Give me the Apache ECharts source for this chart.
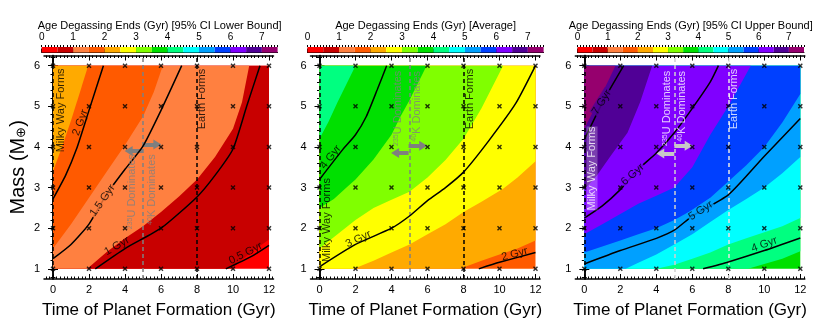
<!DOCTYPE html>
<html>
<head>
<meta charset="utf-8">
<script src="https://cdn.jsdelivr.net/npm/echarts@6/dist/echarts.min.js"></script>
<style>html,body{margin:0;padding:0;background:#fff}#chart{width:830px;height:324px}</style>
</head>
<body>
<div id="chart"></div>
<script>
// colour bins of the colour bar (Gyr)
var binEdges = [0, 0.5, 1, 1.5, 2, 2.5, 3, 3.5, 4, 4.5, 5, 5.5, 6, 6.5, 7, 7.5];
var binColors = ['#ff0000','#c80000','#ff8040','#ff5a00','#ffaa00','#ffff00','#80ff00','#00e000',
                 '#00ff80','#00ffff','#00a0ff','#0040ff','#8000ff','#500096','#96006e'];
var cbTicks = [0, 1, 2, 3, 4, 5, 6, 7];
var timeTicks = [0, 2, 4, 6, 8, 10, 12];
var massTicks = [1, 2, 3, 4, 5, 6];
// model grid (the x markers)
var sampleTimes = [0, 2, 4, 6, 8, 10, 12];
var sampleMasses = [1, 2, 3, 4, 5, 6];
var eventTimes = [0, 5, 8]; // Milky Way forms, U/K switch, Earth forms

// --- lower bound: filled contour edges [time, mass]
var lowEdge05 = [[9.9,1],[11,1.4],[12,1.72]];
var lowEdge10 = [[1.9,1],[3,1.42],[4,1.75],[5,2.05],[6,2.4],[7,2.78],[8,3.2],[9,3.75],[10,4.45],[10.5,5.1],[10.9,6]];
var lowEdge15 = [[0,1.5],[1,2.1],[2,2.75],[3,3.4],[4,4.05],[5,4.75],[5.6,5.35],[6.1,6]];
var lowEdge20 = [[0,3.4],[0.5,4.0],[1,4.65],[1.5,5.35],[1.95,6]];
// lower bound: black contour lines
var low05Gyr = [[9.6,1],[11,1.3],[12,1.58]];
var low1Gyr = [[2.35,1],[4,1.5],[6,2.0],[8,2.77],[9,3.3],[10,3.95],[10.76,5.0],[11.5,6]];
var low15Gyr = [[0,1.25],[1,1.6],[2,2.1],[3,2.85],[4,3.45],[5,4.02],[6,4.9],[7.15,6]];
var low2Gyr = [[0,2.72],[0.7,3.3],[1.3,3.94],[2,4.9],[2.8,6]];

// --- average
var avgEdge20 = [[7.8,1],[9,1.2],[10,1.35],[11,1.5],[12,1.7]];
var avgEdge25 = [[1.9,1],[3,1.2],[4,1.4],[5,1.6],[6,1.85],[7,2.1],[8,2.4],[9,2.65],[10.2,2.97],[11,3.25],[12,3.65]];
var avgEdge30 = [[0,1.5],[1,1.85],[2,2.2],[3,2.5],[4,2.7],[5,2.9],[6,3.25],[7,3.68],[8,4.2],[9,4.95],[10.2,6]];
var avgEdge35 = [[0,2.5],[0.8,2.72],[1.5,3.0],[2,3.2],[3,3.69],[4,4.3],[4.5,4.75],[5,5.15],[5.95,6]];
var avgEdge40 = [[0,4.2],[0.5,4.62],[1,5.1],[1.5,5.55],[2,6]];
var avg2Gyr = [[8.85,1],[10,1.16],[12,1.4]];
var avg3Gyr = [[0,1.05],[2,1.6],[4,2.0],[5,2.3],[6,2.68],[7,3.0],[8,3.38],[9.4,4.15],[10.9,5.07],[12,6]];
var avg4Gyr = [[0,3.2],[1.3,3.94],[2,4.3],[2.6,4.75],[3.2,5.4],[3.73,6]];

// --- upper bound
var upEdge40 = [[9.1,1],[10,1.12],[11,1.25],[12,1.43]];
var upEdge45 = [[4,1],[5,1.1],[6,1.25],[7,1.4],[8,1.6],[9,1.75],[10,1.9],[11,2.05],[12,2.25]];
var upEdge50 = [[2.3,1],[3,1.15],[4,1.35],[5,1.6],[6,1.85],[7,2.15],[8,2.45],[9,2.72],[10,3.0],[11,3.35],[12,3.75]];
var upEdge55 = [[0,1.4],[1,1.55],[2,1.7],[3,1.85],[4,2.0],[5,2.2],[6,2.45],[7,2.75],[8,3.15],[9,3.55],[10,4.0],[11,4.6],[12,5.3]];
var upEdge60 = [[0,1.85],[1,2.1],[2,2.35],[3,2.6],[4,2.8],[5,3.0],[6,3.5],[7,4.3],[8,5.0],[9.25,6]];
var upEdge65 = [[0,2.95],[0.7,3.3],[1.5,3.8],[2.4,4.35],[3.1,5.1],[3.77,6]];
var upEdge70 = [[0,4.45],[0.8,5.15],[1.3,5.6],[1.73,6]];
var up4Gyr = [[6.6,1],[8,1.17],[10,1.45],[12,1.76]];
var up5Gyr = [[0,1.12],[2,1.45],[4,1.75],[5,1.95],[6,2.3],[8,2.82],[10,3.77],[12,4.7]];
var up6Gyr = [[0,2.25],[1,2.55],[2,2.95],[3,3.45],[4,3.85],[5,4.35],[6,4.95],[7,5.6],[7.45,6]];
var up7Gyr = [[0,4.18],[1.08,5.15],[2.19,6]];

// contour labels: text, time, mass, angle, background bin (-1 none)
var lowLabels = [['2 Gyr',1.52,4.6,70,-1],['1.5 Gyr',2.75,2.68,55,2],['1 Gyr',3.55,1.56,30,-1],['0.5 Gyr',10.7,1.38,27,-1]];
var avgLabels = [['4 Gyr',0.62,3.75,52,-1],['3 Gyr',2.16,1.73,25,-1],['2 Gyr',10.84,1.36,15,-1]];
var upLabels = [['7 Gyr',0.97,5.1,58,13],['6 Gyr',2.69,3.32,42,12],['5 Gyr',6.47,2.43,33,10],['4 Gyr',10.0,1.6,20,-1]];
// vertical notes: text, time, mass, colour
var lowNotes = [['Milky Way Forms',0.47,4.9,'#000'],['Earth Forms',8.3,5.18,'#000'],['{s|235}U Dominates',4.37,2.9,'#808080'],['{s|40}K Dominates',5.48,2.95,'#808080']];
var avgNotes = [['Milky Way Forms',0.4,2.2,'#000'],['Earth Forms',8.35,5.18,'#000'],['{s|235}U Dominates',4.38,4.95,'#808080'],['{s|40}K Dominates',5.39,5.0,'#808080']];
var upNotes = [['Milky Way Forms',0.43,3.47,'#fff'],['Earth Forms',8.32,5.18,'#fff'],['{s|235}U Dominates',4.6,4.95,'#fff'],['{s|40}K Dominates',5.44,5.0,'#fff']];
// arrows: from time, mass, to time, mass
var lowArrows = [[5,3.9,4.2,3.9],[5,4.06,5.8,4.06]];
var avgArrows = [[4.95,3.85,4.2,3.85],[4.95,4.03,5.76,4.03]];
var upArrows = [[5,3.84,4.22,3.84],[5,4.03,5.8,4.03]];

var panels = [
    {title:'Age Degassing Ends (Gyr) [95% CI Lower Bound]', left:44, cbLeft:41.7, cbWidth:235.9, base:0,
     edges:[[lowEdge05,1],[lowEdge10,2],[lowEdge15,3],[lowEdge20,4]], lines:[low05Gyr,low1Gyr,low15Gyr,low2Gyr],
     labels:lowLabels, notes:lowNotes, arrows:lowArrows, arrowColor:'#7f7f7f', eventColors:['#000','#808080','#000']},
    {title:'Age Degassing Ends (Gyr) [Average]', left:310.5, cbLeft:307.5, cbWidth:236.1, base:3,
     edges:[[avgEdge20,4],[avgEdge25,5],[avgEdge30,6],[avgEdge35,7],[avgEdge40,8]], lines:[avg2Gyr,avg3Gyr,avg4Gyr],
     labels:avgLabels, notes:avgNotes, arrows:avgArrows, arrowColor:'#7f7f7f', eventColors:['#000','#808080','#000']},
    {title:'Age Degassing Ends (Gyr) [95% CI Upper Bound]', left:575.3, cbLeft:577.5, cbWidth:226.5, base:7,
     edges:[[upEdge40,8],[upEdge45,9],[upEdge50,10],[upEdge55,11],[upEdge60,12],[upEdge65,13],[upEdge70,14]], lines:[up4Gyr,up5Gyr,up6Gyr,up7Gyr],
     labels:upLabels, notes:upNotes, arrows:upArrows, arrowColor:'#c8c8c8', eventColors:['#000','#d0d0d0','#e6e6e6']}
];

var minorX = [], minorY = [], minorCb = [], v;
for (v = -4; v <= 122; v += 2) minorX.push(v / 10);
for (v = 8; v <= 62; v += 2) minorY.push(v / 10);
for (v = 0; v <= 75; v += 1) minorCb.push(v / 10);

var plotTop = 55.5, plotW = 229.5, plotH = 226.6;
var frame = {show:true, lineStyle:{color:'#000', width:1.5}};

// polygon of everything above-left of a contour edge inside the data box
function closeAbove(edge){
    var pts = edge.slice();
    var first = pts[0], last = pts[pts.length - 1];
    if (last[1] < 6) pts.push([12, 6]);
    pts.push([0, 6]);
    if (first[0] > 0) pts.push([0, 1]);
    return pts;
}

var grids = [], xAxes = [], yAxes = [], series = [];

panels.forEach(function(cfg, p){
    grids.push({left:cfg.left, top:plotTop, width:plotW, height:plotH});
    var tick = {show:true, inside:true, length:5, lineStyle:{color:'#000', width:1}};
    var tickMinor = {show:true, inside:true, length:2.5, lineStyle:{color:'#000', width:1}};
    ['bottom','top'].forEach(function(pos){
        xAxes.push({gridIndex:p, type:'value', position:pos, min:-0.5, max:12.25, axisLine:frame,
            axisTick:Object.assign({customValues:timeTicks}, tick),
            axisLabel:{show:pos === 'bottom', customValues:timeTicks, fontSize:11, color:'#000', margin:5},
            splitLine:{show:false},
            name:pos === 'bottom' ? 'Time of Planet Formation (Gyr)' : '', nameLocation:'middle', nameGap:23,
            nameTextStyle:{fontSize:17, color:'#000'}});
        xAxes.push({gridIndex:p, type:'value', position:pos, min:-0.5, max:12.25, axisLine:{show:false},
            axisTick:Object.assign({customValues:minorX}, tickMinor), axisLabel:{show:false}, splitLine:{show:false}});
    });
    ['left','right'].forEach(function(pos){
        yAxes.push({gridIndex:p, type:'value', position:pos, min:0.75, max:6.25, axisLine:frame,
            axisTick:Object.assign({customValues:massTicks}, tick),
            axisLabel:{show:pos === 'left', customValues:massTicks, fontSize:11, color:'#000', margin:4},
            splitLine:{show:false},
            name:(pos === 'left' && p === 0) ? 'Mass (M{s|⊕})' : '', nameLocation:'middle', nameGap:16,
            nameTextStyle:{fontSize:20, color:'#000', rich:{s:{fontSize:13, verticalAlign:'bottom'}}}});
        yAxes.push({gridIndex:p, type:'value', position:pos, min:0.75, max:6.25, axisLine:{show:false},
            axisTick:Object.assign({customValues:minorY}, tickMinor), axisLabel:{show:false}, splitLine:{show:false}});
    });
    var xi = p * 4, yi = p * 4;

    // filled contours
    var layers = [{pts:[[0,1],[12,1],[12,6],[0,6]], color:binColors[cfg.base]}];
    cfg.edges.forEach(function(e){ layers.push({pts:closeAbove(e[0]), color:binColors[e[1]]}); });
    series.push({type:'custom', xAxisIndex:xi, yAxisIndex:yi, silent:true, z:1, clip:true,
        data:layers.map(function(l, i){ return [i]; }),
        renderItem:function(params, api){
            var l = layers[params.dataIndex];
            return {type:'polygon', shape:{points:l.pts.map(function(q){ return api.coord(q); })},
                    style:{fill:l.color}};
        }});

    // black contour lines
    cfg.lines.forEach(function(line){
        series.push({type:'line', xAxisIndex:xi, yAxisIndex:yi, data:line, showSymbol:false, silent:true,
            z:3, smooth:0.2, lineStyle:{color:'#000', width:1.5}});
    });

    // markers, event lines, arrows
    var markers = [];
    sampleTimes.forEach(function(t){ sampleMasses.forEach(function(m){ markers.push([t, m]); }); });
    var ml = eventTimes.map(function(t, i){
        return {xAxis:t, lineStyle:{color:cfg.eventColors[i], type:[4,3], width:1.5}};
    });
    cfg.arrows.forEach(function(a){
        ml.push([{coord:[a[0], a[1]], symbol:'none'},
                 {coord:[a[2], a[3]], symbol:'triangle', symbolSize:[10, 8],
                  lineStyle:{color:cfg.arrowColor, width:4, type:'solid'}}]);
    });
    series.push({type:'scatter', xAxisIndex:xi, yAxisIndex:yi, data:markers, silent:true, z:4,
        symbol:'path://M0,2L2,0L5,3L8,0L10,2L7,5L10,8L8,10L5,7L2,10L0,8L3,5Z', symbolSize:5,
        itemStyle:{color:'#000'},
        markLine:{silent:true, symbol:['none','none'], label:{show:false}, z:3, animation:false,
            lineStyle:{type:'solid'}, data:ml}});

    // text: contour labels and vertical notes
    var texts = cfg.labels.map(function(l){
        return {value:[l[1], l[2]], label:{formatter:l[0], rotate:l[3], color:'#000', fontSize:11,
            backgroundColor:l[4] >= 0 ? binColors[l[4]] : 'transparent', padding:[0, 1]}};
    });
    cfg.notes.forEach(function(n, i){
        texts.push({value:[n[1], n[2]], label:{formatter:n[0], rotate:90, color:n[3], fontSize:11,
            backgroundColor:(p === 2 && i === 0) ? 'rgba(255,255,255,0.3)' : 'transparent',
            rich:{s:{fontSize:7, color:n[3], verticalAlign:'top', lineHeight:11}}}});
    });
    series.push({type:'scatter', xAxisIndex:xi, yAxisIndex:yi, data:texts, symbolSize:0, silent:true, z:5,
        label:{show:true, position:'inside'}});
});

// colour bars
panels.forEach(function(cfg, p){
    grids.push({left:cfg.cbLeft, top:47, width:cfg.cbWidth, height:5.5});
    var gi = 3 + p;
    xAxes.push({gridIndex:gi, type:'value', position:'top', min:0, max:7.5,
        axisLine:{show:true, lineStyle:{color:'#000', width:1}},
        axisTick:{show:true, customValues:cbTicks, length:4, lineStyle:{color:'#000'}},
        axisLabel:{customValues:cbTicks, fontSize:10, color:'#000', margin:5},
        splitLine:{show:false}, name:cfg.title, nameLocation:'middle', nameGap:16,
        nameTextStyle:{fontSize:11, color:'#000'}});
    yAxes.push({gridIndex:gi, type:'value', min:0, max:1, show:false});
});
panels.forEach(function(cfg, p){
    xAxes.push({gridIndex:3 + p, type:'value', position:'top', min:0, max:7.5, axisLine:{show:false},
        axisTick:{show:true, customValues:minorCb, length:2, lineStyle:{color:'#000'}},
        axisLabel:{show:false}, splitLine:{show:false}});
    series.push({type:'custom', xAxisIndex:12 + p, yAxisIndex:12 + p, silent:true,
        data:binColors.map(function(c, i){ return [binEdges[i], binEdges[i + 1]]; }),
        renderItem:function(params, api){
            var a = api.coord([api.value(0), 0]), b = api.coord([api.value(1), 1]);
            return {type:'rect', shape:{x:a[0], y:b[1], width:b[0] - a[0], height:a[1] - b[1]},
                    style:{fill:binColors[params.dataIndex]}};
        }});
});

var myChart = echarts.init(document.getElementById('chart'));
myChart.setOption({
    animation:false,
    textStyle:{fontFamily:'Liberation Sans, Arial, sans-serif'},
    grid:grids, xAxis:xAxes, yAxis:yAxes, series:series
});
</script>
</body>
</html>
